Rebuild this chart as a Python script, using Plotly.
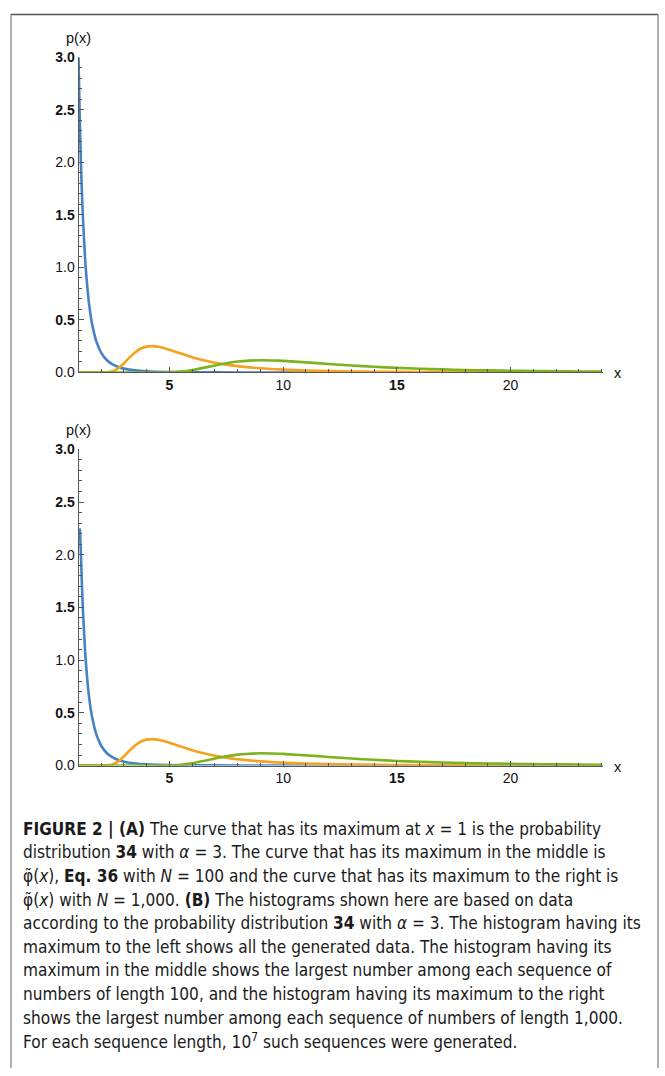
import plotly.graph_objects as go

# ---------------- data ----------------
# Panel A: theoretical curves
xa_blue = [1, 1.05, 1.1, 1.15, 1.2, 1.3, 1.4, 1.5, 1.6, 1.8, 2, 2.25, 2.5, 2.75, 3, 3.5, 4, 5, 6, 8, 10, 15, 24]
ya_blue = [3.0, 2.468, 2.049, 1.715, 1.447, 1.050, 0.781, 0.593, 0.458, 0.286, 0.1875, 0.117, 0.0768, 0.0525,
           0.037, 0.020, 0.0117, 0.0048, 0.0023, 0.0007, 0.0003, 0.00006, 0.00001]

xa_orange = [1, 1.5, 2, 2.25, 2.5, 2.75, 3, 3.25, 3.5, 3.75, 4, 4.25, 4.5, 4.75, 5, 5.5, 6, 6.5, 7, 7.5, 8,
             9, 10, 11, 12, 13, 14, 16, 18, 20, 22, 24]
ya_orange = [0, 0, 0.00003, 0.0013, 0.011, 0.0399, 0.0883, 0.144, 0.1933, 0.228, 0.2464, 0.2511, 0.2454, 0.233,
             0.2167, 0.1805, 0.1462, 0.1171, 0.0936, 0.075, 0.0604, 0.0399, 0.0272, 0.019, 0.01366, 0.01004,
             0.00753, 0.00447, 0.00281, 0.00185, 0.00127, 0.0009]

xa_green = [1, 2, 3, 4, 4.5, 5, 5.5, 6, 6.5, 7, 7.5, 8, 8.5, 9, 9.5, 10, 11, 12, 13, 14, 15, 16, 17, 18, 19,
            20, 21, 22, 23, 24]
ya_green = [0, 0, 0, 0, 0.00012, 0.00157, 0.00794, 0.02248, 0.04393, 0.0676, 0.08856, 0.1039, 0.1128, 0.1161,
            0.1148, 0.1104, 0.0967, 0.0812, 0.0666, 0.0543, 0.0441, 0.0359, 0.0293, 0.0241, 0.0199, 0.01655,
            0.01385, 0.01166, 0.00988, 0.00841]

# Panel B: histograms of generated data
xb_blue = [1.06, 1.1, 1.15, 1.2, 1.3, 1.4, 1.5, 1.6, 1.8, 2, 2.25, 2.5, 2.75, 3, 3.5, 4, 5, 6, 8, 10, 15, 24]
yb_blue = [2.25, 2.05, 1.72, 1.45, 1.05, 0.78, 0.593, 0.458, 0.286, 0.188, 0.117, 0.077, 0.052,
           0.037, 0.020, 0.012, 0.005, 0.0023, 0.0007, 0.0003, 0.00006, 0.00001]

xb_orange = [1, 1.5, 2, 2.25, 2.5, 2.75, 3, 3.25, 3.5, 3.75, 4, 4.25, 4.5, 4.75, 5, 5.5, 6, 6.5, 7, 7.5, 8,
             9, 10, 11, 12, 13, 14, 16, 18, 20, 22, 24]
yb_orange = [0, 0, 0.00003, 0.0014, 0.011, 0.040, 0.088, 0.144, 0.193, 0.228, 0.246, 0.251, 0.245, 0.233,
             0.217, 0.180, 0.146, 0.117, 0.094, 0.075, 0.060, 0.040, 0.027, 0.019, 0.0137, 0.0100,
             0.0075, 0.0045, 0.0028, 0.0019, 0.0013, 0.0009]

xb_green = [1, 2, 3, 4, 4.5, 5, 5.5, 6, 6.5, 7, 7.5, 8, 8.5, 9, 9.5, 10, 10.5, 11, 11.5, 12, 13, 14, 15, 16,
            17, 18, 19, 20, 21, 22, 23, 24]
yb_green = [0, 0, 0, 0, 0.0002, 0.0016, 0.008, 0.0225, 0.044, 0.0675, 0.0885, 0.1040, 0.1125, 0.1165, 0.1145,
            0.1110, 0.1030, 0.0970, 0.0895, 0.0815, 0.0665, 0.0545, 0.0440, 0.0360, 0.0292, 0.0242, 0.0198,
            0.0166, 0.0138, 0.0117, 0.0099, 0.0084]

ytick_vals = [0, 0.5, 1.0, 1.5, 2.0, 2.5, 3.0]
ytick_text = ["0.0", "<b>0.5</b>", "1.0", "<b>1.5</b>", "2.0", "<b>2.5</b>", "<b>3.0</b>"]
xtick_vals = [5, 10, 15, 20]
xtick_text = ["<b>5</b>", "10", "<b>15</b>", "20"]

caption_lines = [
    "<b>FIGURE 2 | (A)</b> The curve that has its maximum at <i>x</i> = 1 is the probability",
    "distribution <b>34</b> with <i>α</i> = 3. The curve that has its maximum in the middle is",
    "φ̃(<i>x</i>), <b>Eq. 36</b> with <i>N</i> = 100 and the curve that has its maximum to the right is",
    "φ̃(<i>x</i>) with <i>N</i> = 1,000. <b>(B)</b> The histograms shown here are based on data",
    "according to the probability distribution <b>34</b> with <i>α</i> = 3. The histogram having its",
    "maximum to the left shows all the generated data. The histogram having its",
    "maximum in the middle shows the largest number among each sequence of",
    "numbers of length 100, and the histogram having its maximum to the right",
    "shows the largest number among each sequence of numbers of length 1,000.",
    "For each sequence length, 10<sup>7</sup> such sequences were generated.",
]

# ---------------- layout helpers ----------------
W, H = 665, 1076
BLUE, ORANGE, GREEN = "#4682c6", "#f5a21c", "#7db41e"
AXC = "#555555"
TICKFONT = dict(family="Liberation Sans, Arial, sans-serif", size=14, color="#111111")


def px_x(p):
    return p / W


def px_y(p):
    return 1 - p / H


fig = go.Figure()

panels = [
    ("x", "y", (xa_blue, ya_blue), (xa_orange, ya_orange), (xa_green, ya_green)),
    ("x2", "y2", (xb_blue, yb_blue), (xb_orange, yb_orange), (xb_green, yb_green)),
]
for xa, ya, b, o, g in panels:
    for (xs, ys), c in ((b, BLUE), (o, ORANGE), (g, GREEN)):
        fig.add_trace(go.Scatter(x=xs, y=ys, mode="lines", line=dict(color=c, width=2.6, shape="spline",
                                 smoothing=0.6), xaxis=xa, yaxis=ya, showlegend=False, hoverinfo="skip"))

x_dom = [px_x(78.5), px_x(602.7)]
top_dom = [px_y(370), px_y(50)]
bot_dom = [px_y(769), px_y(448)]


def xaxis_def(anchor):
    return dict(domain=x_dom, range=[1, 24.05], anchor=anchor, showgrid=False, zeroline=False,
                showline=True, linecolor=AXC, linewidth=1, ticks="inside", ticklen=5, tickcolor=AXC,
                tickwidth=1, tickmode="array", tickvals=xtick_vals, ticktext=xtick_text, tickfont=TICKFONT,
                minor=dict(tickmode="linear", tick0=0, dtick=1, ticks="inside", ticklen=3, tickcolor=AXC,
                           tickwidth=1, showgrid=False))


def yaxis_def(dom, anchor):
    return dict(domain=dom, range=[0, 3.0], anchor=anchor, showgrid=False, zeroline=False,
                showline=True, linecolor=AXC, linewidth=1, ticks="inside", ticklen=5, tickcolor=AXC,
                tickwidth=1, tickmode="array", tickvals=ytick_vals, ticktext=ytick_text, tickfont=TICKFONT,
                minor=dict(tickmode="linear", tick0=0, dtick=0.1, ticks="inside", ticklen=3, tickcolor=AXC,
                           tickwidth=1, showgrid=False))


fig.update_layout(
    width=W, height=H, margin=dict(l=0, r=0, t=0, b=0),
    paper_bgcolor="white", plot_bgcolor="white",
    xaxis=xaxis_def("y"), yaxis=yaxis_def(top_dom, "x"),
    xaxis2=xaxis_def("y2"), yaxis2=yaxis_def(bot_dom, "x2"),
)

annots = []
LBL = dict(family="Liberation Sans, Arial, sans-serif", size=14.5, color="#111111")
for ytop in (30, 428):
    annots.append(dict(text="p(x)", x=px_x(78), y=px_y(ytop), xref="paper", yref="paper",
                       xanchor="center", yanchor="middle", showarrow=False, font=LBL))
for yx in (371, 770):
    annots.append(dict(text="x", x=px_x(618), y=px_y(yx), xref="paper", yref="paper",
                       xanchor="center", yanchor="middle", showarrow=False, font=LBL))

CAP = dict(family="DejaVu Sans Condensed, Liberation Sans Narrow, Liberation Sans, sans-serif",
           size=17.1, color="#1a1a1a")
line_y = [833, 857, 881, 905, 929, 953, 977, 1001, 1025, 1049]
for t, yy in zip(caption_lines, line_y):
    annots.append(dict(text=t, x=px_x(21), y=px_y(yy), xref="paper", yref="paper", xanchor="left",
                       yanchor="middle", showarrow=False, font=CAP, align="left"))
fig.update_layout(annotations=annots)

FR = "#7a7a7a"
fig.update_layout(shapes=[
    dict(type="line", xref="paper", yref="paper", x0=px_x(11), x1=px_x(658), y0=px_y(6.5), y1=px_y(6.5),
         line=dict(color="#555555", width=1.5)),
    dict(type="line", xref="paper", yref="paper", x0=px_x(11), x1=px_x(11), y0=px_y(6), y1=0,
         line=dict(color=FR, width=1.2)),
    dict(type="line", xref="paper", yref="paper", x0=px_x(658), x1=px_x(658), y0=px_y(6), y1=0,
         line=dict(color=FR, width=1.2)),
])

fig.write_html(
    "out.html",
    config={"displayModeBar": False},
    post_script="document.body.style.margin='0';document.body.style.padding='0';"
                "document.body.style.overflow='hidden';",
)
